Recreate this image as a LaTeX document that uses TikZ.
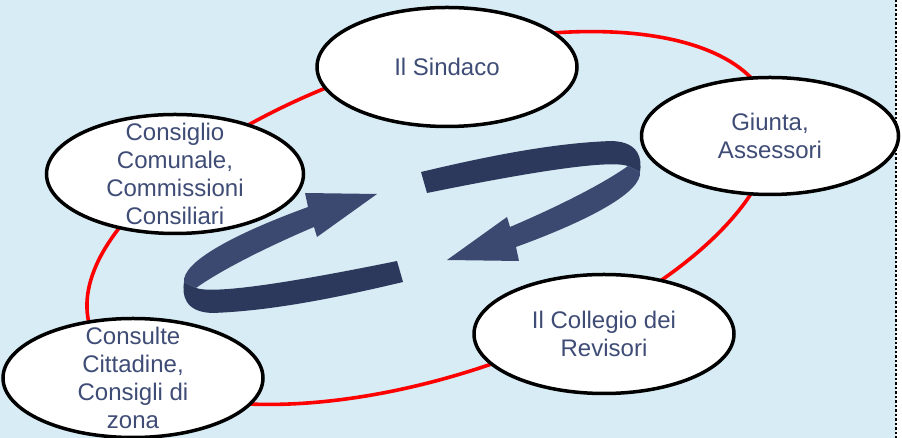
\documentclass[tikz,border=0pt]{standalone}
\usepackage{fontspec}
\setmainfont{Liberation Sans}
\usetikzlibrary{shapes.geometric}

\definecolor{sky}{RGB}{215,236,245}
\definecolor{ink}{RGB}{62,76,118}
\definecolor{banddark}{RGB}{45,57,92}
\definecolor{bandlight}{RGB}{59,73,112}

\tikzset{
  organo/.style={ellipse, draw=black, line width=3.5pt, fill=white, inner sep=0pt},
  voce/.style={text=ink, align=center, font=\fontsize{24}{28}\selectfont},
  giro/.style={draw=red, line width=3.6pt}
}

% one curved ribbon arrow, tail strip and head strip
\newcommand{\loopband}{%
  \fill[banddark] (421,266) .. controls (480,280) and (550,295) .. (612,297)
    .. controls (640,296) and (642,278) .. (640,266) -- (628,272)
    .. controls (610,278) and (540,268) .. (427,245) -- cycle;
  \fill[bandlight] (628,272) -- (640,266) .. controls (642,246) and (590,218) .. (516,191)
    -- (519,177) -- (447,178) -- (507,221) -- (510,211)
    .. controls (550,228) and (600,252) .. (628,272) -- cycle;
}

\begin{document}
\begin{tikzpicture}[x=1pt, y=1pt]
  \useasboundingbox (0,0) rectangle (902,438);
  \fill[sky] (0,0) rectangle (896,438);
  \draw[line width=2.5pt, dash pattern=on 2.5pt off 2pt] (896,438) -- (896,0);

  \draw[giro, rotate around={18:(430,220)}] (430,220) ellipse (357pt and 158pt);

  \loopband
  \begin{scope}[rotate around={180:(412,211)}]
    \loopband
  \end{scope}

  \node[organo, minimum width=260, minimum height=119,
        label={[voce]center:Il Sindaco}] (sindaco) at (447,371) {};
  \node[organo, minimum width=257, minimum height=117,
        label={[voce]center:{Giunta,\\Assessori}}] (giunta) at (770,302) {};
  \node[organo, minimum width=257, minimum height=119,
        label={[voce]center:{Consiglio\\Comunale,\\Commissioni\\Consiliari}}] (consiglio) at (175,264) {};
  \node[organo, minimum width=260, minimum height=119,
        label={[voce]center:{Consulte\\Cittadine,\\Consigli di\\zona}}] (consulte) at (133,60) {};
  \node[organo, minimum width=260, minimum height=119,
        label={[voce]center:{Il Collegio dei\\Revisori}}] (collegio) at (604,104) {};
\end{tikzpicture}
\end{document}
